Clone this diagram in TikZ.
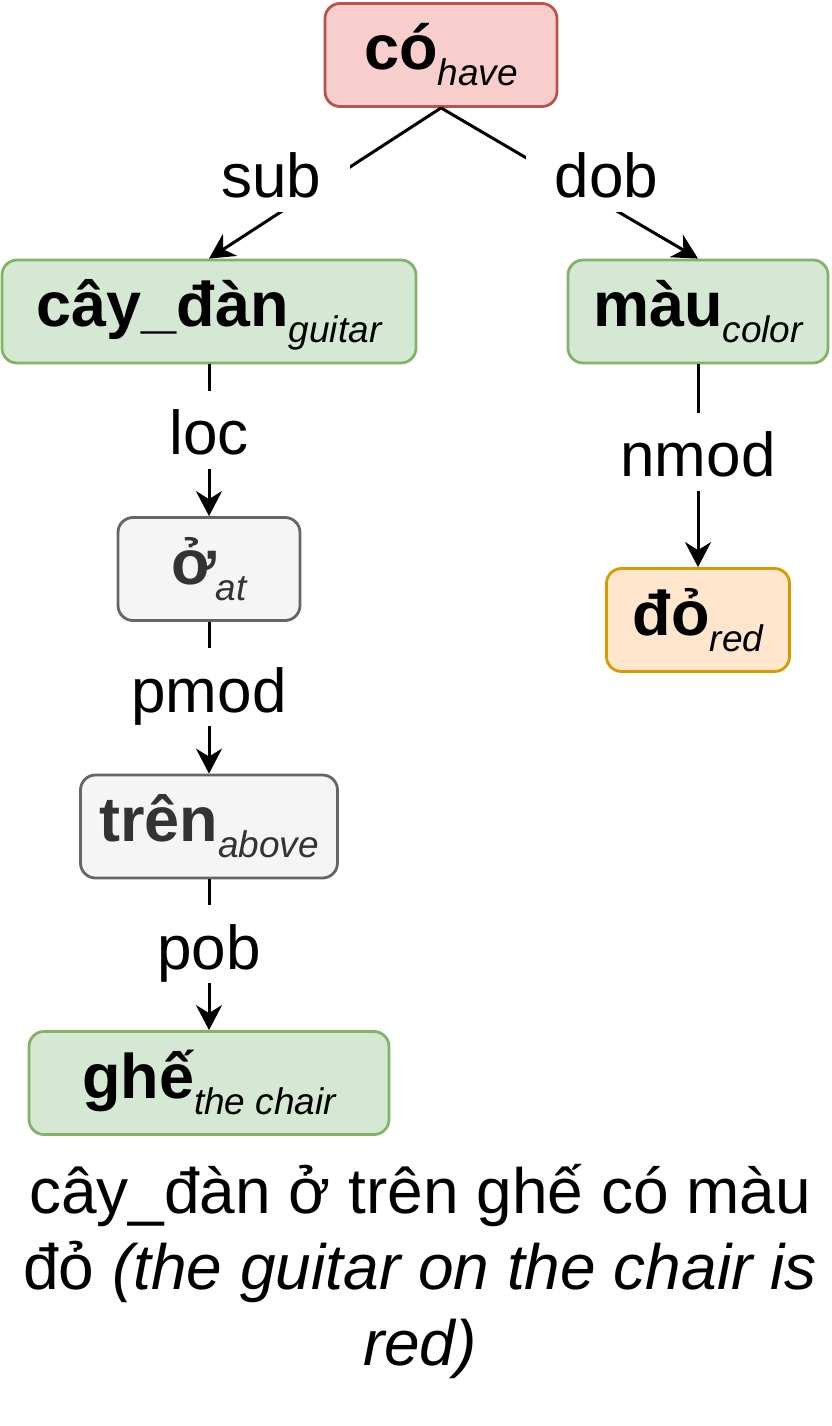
\documentclass[tikz,border=0pt]{standalone}
\usepackage{fontspec}
\setmainfont{Liberation Sans}
\usepackage{tikz}
\usetikzlibrary{arrows.meta}
\definecolor{redfill}{HTML}{F8CECC}
\definecolor{redline}{HTML}{B85450}
\definecolor{greenfill}{HTML}{D5E8D4}
\definecolor{greenline}{HTML}{82B366}
\definecolor{grayfill}{HTML}{F5F5F5}
\definecolor{grayline}{HTML}{666666}
\definecolor{graytext}{HTML}{333333}
\definecolor{orangefill}{HTML}{FFE6CC}
\definecolor{orangeline}{HTML}{D79B00}
\newcommand{\wordsub}[2]{{\bfseries #1}\raisebox{-16pt}{\fontsize{37}{37}\selectfont\itshape #2}}

\begin{document}
\begin{tikzpicture}[x=1pt,y=-1pt,
  wordbox/.style={rounded corners=15pt, line width=2.8pt, minimum height=103pt, inner sep=0pt,
    text height=46pt, text depth=16pt, font=\fontsize{63}{63}\selectfont},
  rootword/.style={wordbox, fill=redfill, draw=redline},
  nounword/.style={wordbox, fill=greenfill, draw=greenline},
  prepword/.style={wordbox, fill=grayfill, draw=grayline, text=graytext},
  adjword/.style={wordbox, fill=orangefill, draw=orangeline},
  deparrow/.style={line width=3pt, -{Stealth[length=25pt,width=26pt,inset=8pt]}},
  deplabel/.style={fill=white, pos=0.43, inner xsep=29pt, inner ysep=6pt,
    text height=58pt, text depth=8pt, font=\fontsize{62}{62}\selectfont}]
\useasboundingbox (0,0) rectangle (831,1426);

\node[rootword, minimum width=232pt] (co) at (441,55) {\wordsub{có}{have}};
\node[nounword, minimum width=414pt] (caydan) at (209,311.5) {\wordsub{cây\_đàn}{guitar}};
\node[nounword, minimum width=260pt] (mau) at (698,311.5) {\wordsub{màu}{color}};
\node[prepword, minimum width=182pt] (o) at (209,569) {\wordsub{ở}{at}};
\node[adjword, minimum width=183pt] (do) at (698,620) {\wordsub{đỏ}{red}};
\node[prepword, minimum width=257pt] (tren) at (209,826.5) {\wordsub{trên}{above}};
\node[nounword, minimum width=360pt] (ghe) at (209,1083) {\wordsub{ghế}{the chair}};

\draw[deparrow] (co.south) -- node[deplabel, xshift=-70pt] {sub} (caydan.north);
\draw[deparrow] (co.south) -- node[deplabel, xshift=55pt] {dob} (mau.north);
\draw[deparrow] (caydan.south) -- node[deplabel] {loc} (o.north);
\draw[deparrow] (mau.south) -- node[deplabel] {nmod} (do.north);
\draw[deparrow] (o.south) -- node[deplabel] {pmod} (tren.north);
\draw[deparrow] (tren.south) -- node[deplabel] {pob} (ghe.north);

\node[align=center, font=\fontsize{64}{76}\selectfont] (caption) at (420,1272)
  {cây\_đàn ở trên ghế có màu\\đỏ \textit{(the guitar on the chair is}\\\textit{red)}};
\end{tikzpicture}
\end{document}
